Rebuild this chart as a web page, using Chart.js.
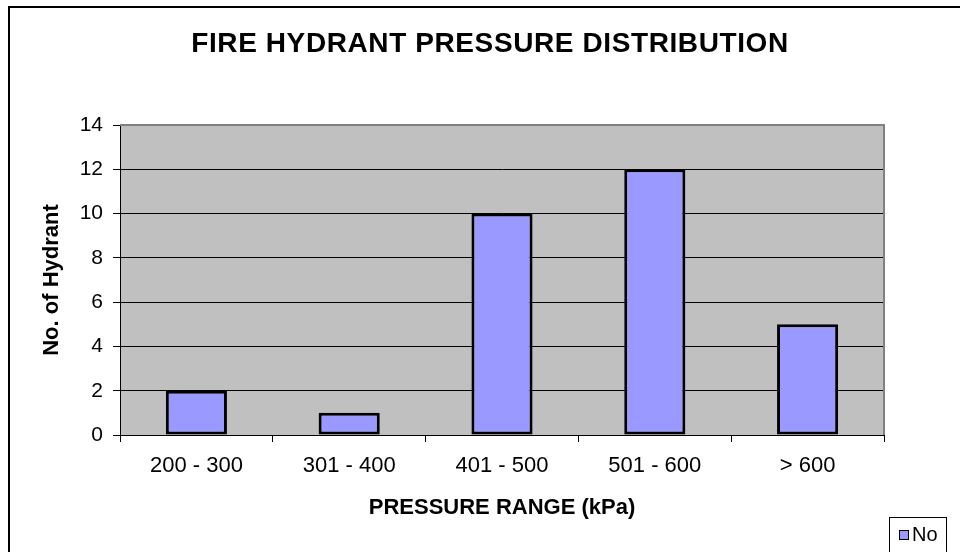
<!DOCTYPE html>
<html>
<head>
<meta charset="utf-8">
<script src="https://cdn.jsdelivr.net/npm/chart.js@4/dist/chart.umd.min.js"></script>
<style>
  html, body { margin: 0; padding: 0; background: #ffffff; }
  #wrap { width: 960px; height: 552px; }
</style>
</head>
<body>
<div id="wrap"><canvas id="c" width="960" height="552"></canvas></div>
<script>
const chartTitle = 'FIRE HYDRANT PRESSURE DISTRIBUTION';
const categories = ['200 - 300', '301 - 400', '401 - 500', '501 - 600', '> 600'];
const seriesName = 'No';
const hydrantCounts = [2, 1, 10, 12, 5];
const yMin = 0, yMax = 14, yStep = 2;
const xAxisTitle = 'PRESSURE RANGE (kPa)';
const yAxisTitle = 'No. of Hydrant';

const FONT = '"Liberation Sans", Arial, sans-serif';
const BAR_FILL = '#9999FF';

const decor = {
  id: 'decor',
  beforeDraw(chart) {
    const { ctx, chartArea: a } = chart;
    ctx.save();
    ctx.fillStyle = '#ffffff';
    ctx.fillRect(0, 0, chart.width, chart.height);
    ctx.fillStyle = '#C0C0C0';
    ctx.fillRect(a.left, a.top, a.right - a.left, a.bottom - a.top);
    ctx.restore();
  },
  afterDraw(chart) {
    const { ctx, chartArea: a } = chart;
    ctx.save();
    // plot area gray frame (top & right)
    ctx.strokeStyle = '#808080';
    ctx.lineWidth = 2;
    ctx.beginPath();
    ctx.moveTo(a.left, a.top);
    ctx.lineTo(a.right, a.top);
    ctx.lineTo(a.right, a.bottom);
    ctx.stroke();
    // outer chart border
    ctx.strokeStyle = '#000000';
    ctx.lineWidth = 2;
    ctx.strokeRect(9, 7, 980, 580);
    // title
    ctx.fillStyle = '#000000';
    ctx.font = 'bold 28px ' + FONT;
    ctx.textAlign = 'center';
    ctx.textBaseline = 'middle';
    if ('letterSpacing' in ctx) ctx.letterSpacing = '0.6px';
    ctx.fillText(chartTitle, 490, 44);
    if ('letterSpacing' in ctx) ctx.letterSpacing = '0px';
    // legend
    const ds = chart.data.datasets[0];
    ctx.fillStyle = '#ffffff';
    ctx.fillRect(889, 517, 57, 40);
    ctx.strokeStyle = '#000000';
    ctx.lineWidth = 1;
    ctx.strokeRect(889.5, 517.5, 57, 40);
    ctx.fillStyle = ds.backgroundColor;
    ctx.fillRect(899.5, 530.5, 9, 9);
    ctx.strokeRect(899.5, 530.5, 9, 9);
    ctx.fillStyle = '#000000';
    ctx.font = '20px ' + FONT;
    ctx.textAlign = 'left';
    ctx.textBaseline = 'middle';
    ctx.fillText(ds.label, 912, 535);
    ctx.restore();
  }
};

new Chart(document.getElementById('c'), {
  type: 'bar',
  data: {
    labels: categories,
    datasets: [{
      label: seriesName,
      data: hydrantCounts,
      backgroundColor: BAR_FILL,
      borderColor: '#000000',
      borderWidth: 3,
      borderSkipped: false,
      categoryPercentage: 1,
      barPercentage: 0.4
    }]
  },
  options: {
    responsive: false,
    animation: false,
    events: [],
    layout: { padding: { top: 125, right: 76, bottom: 0, left: 0 } },
    plugins: {
      legend: { display: false },
      title: { display: false },
      tooltip: { enabled: false }
    },
    scales: {
      x: {
        afterFit(scale) { scale.height = 117; },
        grid: {
          offset: true,
          drawOnChartArea: false,
          drawTicks: true,
          tickLength: 7,
          color: '#000000',
          lineWidth: 1
        },
        border: { display: true, color: '#000000', width: 1 },
        ticks: {
          color: '#000000',
          font: { family: FONT, size: 22 },
          padding: 11,
          maxRotation: 0,
          autoSkip: false
        },
        title: {
          display: true,
          text: xAxisTitle,
          color: '#000000',
          font: { family: FONT, size: 22, weight: 'bold' },
          padding: { top: 0, bottom: 31 }
        }
      },
      y: {
        min: yMin,
        max: yMax,
        afterFit(scale) { scale.width = 120; },
        grid: {
          drawOnChartArea: true,
          drawTicks: true,
          tickLength: 7,
          color: '#000000',
          lineWidth: 1
        },
        border: { display: true, color: '#000000', width: 1 },
        ticks: {
          stepSize: yStep,
          color: '#000000',
          font: { family: FONT, size: 21 },
          padding: 10
        },
        title: {
          display: true,
          text: yAxisTitle,
          color: '#000000',
          font: { family: FONT, size: 22, weight: 'bold' },
          padding: { top: 39, bottom: 0 }
        }
      }
    }
  },
  plugins: [decor]
});
</script>
</body>
</html>
